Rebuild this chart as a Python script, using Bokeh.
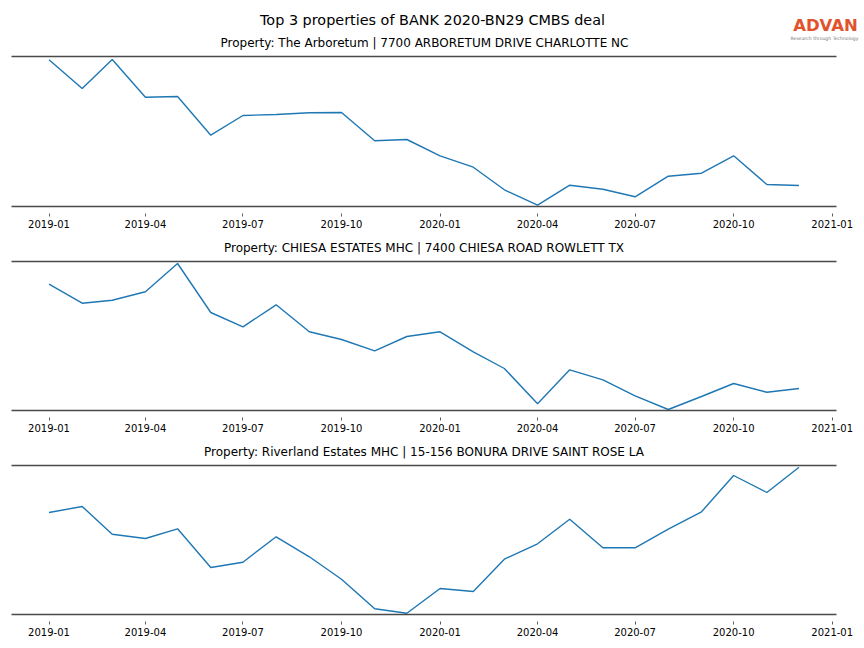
import pandas as pd
from bokeh.plotting import figure
from bokeh.layouts import column
from bokeh.models import (Range1d, LinearAxis, MonthsTicker, DatetimeTickFormatter,
                          Label, FixedTicker)
from bokeh.embed import file_html
from bokeh.resources import INLINE

# ---------------- data ----------------
months = pd.date_range("2019-01-01", periods=24, freq="MS")

main_title = "Top 3 properties of BANK 2020-BN29 CMBS deal"
titles = [
    "Property: The Arboretum | 7700 ARBORETUM DRIVE CHARLOTTE NC",
    "Property: CHIESA ESTATES MHC | 7400 CHIESA ROAD ROWLETT TX",
    "Property: Riverland Estates MHC | 15-156 BONURA DRIVE SAINT ROSE LA",
]

arboretum = [146.7, 118.0, 147.0, 109.3, 110.0, 71.3, 91.0, 92.0, 93.7, 94.0, 65.7, 67.0,
             50.7, 39.3, 16.7, 1.3, 21.3, 17.3, 9.7, 30.3, 33.3, 50.7, 22.0, 21.0]
chiesa = [126.3, 107.3, 110.3, 118.7, 147.0, 98.0, 83.7, 105.7, 78.7, 71.0, 59.7, 74.0,
          78.7, 58.7, 42.0, 6.7, 40.7, 30.7, 14.7, 1.0, 14.0, 27.0, 18.3, 22.0]
riverland = [102.0, 108.0, 80.3, 76.0, 85.7, 47.0, 52.3, 77.7, 57.7, 35.3, 5.7, 1.3,
             26.0, 23.0, 55.3, 70.7, 95.3, 66.7, 66.7, 85.3, 102.7, 139.0, 122.0, 147.3]

series = [arboretum, chiesa, riverland]

FONT = "DejaVu Sans"
LINE = "#1f77b4"
SPINE = "#4a4a4a"

span = months[-1] - months[0]
x_start = months[0] - span * 0.05
x_end = months[-1] + span * 0.05

FL, FW, FR = 11, 825, 28   # frame left border, frame width, right border

# ---------------- header ----------------
HH = 52
HW = 852
hdr = figure(frame_width=HW, frame_height=HH, x_range=Range1d(FL, FL + HW),
             y_range=Range1d(0, HH), output_backend="svg", toolbar_location=None,
             min_border_left=FL, min_border_right=1, min_border_top=0,
             min_border_bottom=0, x_axis_location=None, y_axis_location=None)
hdr.outline_line_color = None
hdr.grid.visible = False
hdr.add_layout(Label(x=432, y=HH - 19, text=main_title, text_align="center",
                     text_baseline="middle", text_font=FONT, text_font_size="14.4px",
                     text_color="black"))
hdr.add_layout(Label(x=424, y=HH - 42, text=titles[0], text_align="center",
                     text_baseline="middle", text_font=FONT, text_font_size="12px",
                     text_color="black"))
hdr.add_layout(Label(x=825, y=HH - 25, text="ADVAN", text_align="center",
                     text_baseline="middle", text_font=FONT, text_font_size="16.5px",
                     text_font_style="bold", text_color="#e2532d"))
hdr.add_layout(Label(x=824, y=HH - 37.5, text="Research through Technology",
                     text_align="center", text_baseline="middle", text_font=FONT,
                     text_font_size="4.6px", text_color="#777777"))


def make_panel(values, title, top, frame_h, bottom, y_end):
    p = figure(frame_width=FW, frame_height=frame_h, x_axis_type="datetime",
               x_range=Range1d(x_start, x_end), y_range=Range1d(0, y_end),
               output_backend="svg", toolbar_location=None, y_axis_location=None,
               min_border_left=FL, min_border_right=FR, min_border_top=top,
               min_border_bottom=bottom)
    p.outline_line_color = None
    p.grid.visible = False
    if title:
        p.title.text = title
        p.title.align = "center"
        p.title.text_font = FONT
        p.title.text_font_size = "12px"
        p.title.text_font_style = "normal"
        p.title.text_color = "black"
        p.title.standoff = 13
    ax = p.xaxis[0]
    ax.ticker = MonthsTicker(months=[0, 3, 6, 9])
    ax.formatter = DatetimeTickFormatter(months="%Y-%m", days="%Y-%m", years="%Y-%m",
                                         hours="%Y-%m", minutes="%Y-%m")
    ax.axis_line_color = SPINE
    ax.axis_line_width = 1.4
    ax.major_tick_in = -7
    ax.major_tick_out = 10
    ax.major_tick_line_color = "#333333"
    ax.major_tick_line_width = 0.8
    ax.minor_tick_line_color = None
    ax.major_label_standoff = 3
    ax.major_label_text_font = FONT
    ax.major_label_text_font_size = "10px"
    ax.major_label_text_color = "black"

    top_ax = LinearAxis(ticker=FixedTicker(ticks=[]), axis_line_color=SPINE,
                        axis_line_width=1.4, major_tick_line_color=None,
                        minor_tick_line_color=None, major_label_standoff=0,
                        major_tick_in=0, major_tick_out=0, minor_tick_in=0,
                        minor_tick_out=0)
    p.add_layout(top_ax, "above")

    p.line(months, values, line_color=LINE, line_width=1.4)
    return p


p1 = make_panel(series[0], None, 4, 150, 26, 150)
p2 = make_panel(series[1], titles[1], 25, 149, 26, 149)
p3 = make_panel(series[2], titles[2], 25, 149, 32, 149)

layout = column(hdr, p1, p2, p3, spacing=0)
open("out.html", "w").write(file_html(layout, INLINE))
